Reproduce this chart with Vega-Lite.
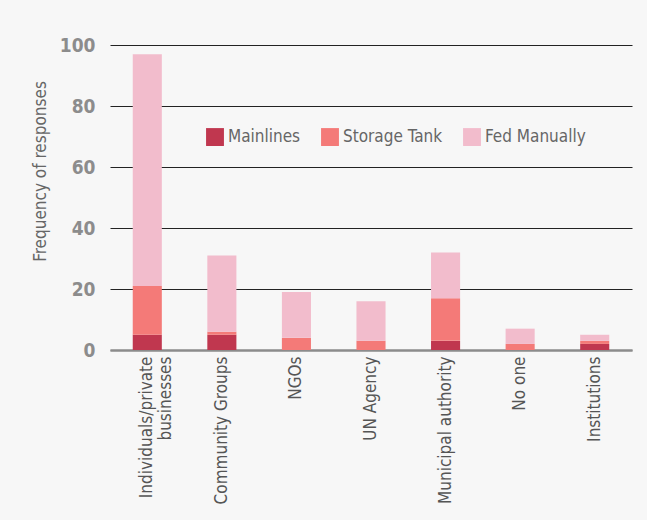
{
  "$schema": "https://vega.github.io/schema/vega-lite/v6.json",
  "autosize": "none",
  "width": 522,
  "height": 305,
  "padding": {"left": 110, "top": 45, "right": 15, "bottom": 170},
  "background": "#f7f7f7",
  "config": {
    "font": "'DejaVu Sans Condensed', 'Liberation Sans Narrow', Roboto, sans-serif",
    "view": {"stroke": null}
  },
  "data": {
    "values": [
      {"who": "Individuals/private businesses", "source": "Mainlines", "count": 5},
      {"who": "Individuals/private businesses", "source": "Storage Tank", "count": 16},
      {"who": "Individuals/private businesses", "source": "Fed Manually", "count": 76},
      {"who": "Community Groups", "source": "Mainlines", "count": 5},
      {"who": "Community Groups", "source": "Storage Tank", "count": 1},
      {"who": "Community Groups", "source": "Fed Manually", "count": 25},
      {"who": "NGOs", "source": "Mainlines", "count": 0},
      {"who": "NGOs", "source": "Storage Tank", "count": 4},
      {"who": "NGOs", "source": "Fed Manually", "count": 15},
      {"who": "UN Agency", "source": "Mainlines", "count": 0},
      {"who": "UN Agency", "source": "Storage Tank", "count": 3},
      {"who": "UN Agency", "source": "Fed Manually", "count": 13},
      {"who": "Municipal authority", "source": "Mainlines", "count": 3},
      {"who": "Municipal authority", "source": "Storage Tank", "count": 14},
      {"who": "Municipal authority", "source": "Fed Manually", "count": 15},
      {"who": "No one", "source": "Mainlines", "count": 0},
      {"who": "No one", "source": "Storage Tank", "count": 2},
      {"who": "No one", "source": "Fed Manually", "count": 5},
      {"who": "Institutions", "source": "Mainlines", "count": 2},
      {"who": "Institutions", "source": "Storage Tank", "count": 1},
      {"who": "Institutions", "source": "Fed Manually", "count": 2}
    ]
  },
  "transform": [
    {"calculate": "indexof(['Mainlines', 'Storage Tank', 'Fed Manually'], datum.source)", "as": "stackOrder"}
  ],
  "mark": {"type": "bar"},
  "encoding": {
    "x": {
      "field": "who",
      "type": "nominal",
      "sort": null,
      "scale": {"paddingInner": 0.61, "paddingOuter": 0.305},
      "axis": {
        "title": null,
        "labelAngle": 270,
        "labelAlign": "right",
        "labelBaseline": "middle",
        "labelFontSize": 17,
        "labelColor": "#555555",
        "labelPadding": 6,
        "labelLimit": 300,
        "labelExpr": "datum.label == 'Individuals/private businesses' ? ['Individuals/private', 'businesses'] : datum.label",
        "ticks": false,
        "domainColor": "#8c8c8c",
        "domainWidth": 2
      }
    },
    "y": {
      "field": "count",
      "type": "quantitative",
      "stack": "zero",
      "scale": {"domain": [0, 100]},
      "axis": {
        "title": "Frequency of responses",
        "titleFontSize": 17,
        "titleFontWeight": "normal",
        "titleColor": "#666666",
        "titleX": -61,
        "titleY": 126,
        "titleAngle": 270,
        "titleAlign": "center",
        "titleBaseline": "bottom",
        "values": [0, 20, 40, 60, 80, 100],
        "labelFontSize": 19,
        "labelFontWeight": "bold",
        "labelColor": "#8c8c8c",
        "labelPadding": 15,
        "ticks": false,
        "domain": false,
        "grid": true,
        "gridColor": {"condition": {"test": "datum.value == 0", "value": "#8c8c8c"}, "value": "#222222"},
        "gridWidth": {"condition": {"test": "datum.value == 0", "value": 2}, "value": 1}
      }
    },
    "color": {
      "field": "source",
      "type": "nominal",
      "scale": {
        "domain": ["Mainlines", "Storage Tank", "Fed Manually"],
        "range": ["#c0374f", "#f47a78", "#f2bccc"]
      },
      "legend": {
        "title": null,
        "orient": "none",
        "legendX": 96,
        "legendY": 83,
        "direction": "horizontal",
        "symbolType": "square",
        "symbolSize": 320,
        "symbolStrokeWidth": 0,
        "labelFontSize": 17,
        "labelColor": "#666666",
        "labelOffset": 4,
        "columnPadding": 20
      }
    },
    "order": {"field": "stackOrder", "type": "quantitative"}
  }
}
